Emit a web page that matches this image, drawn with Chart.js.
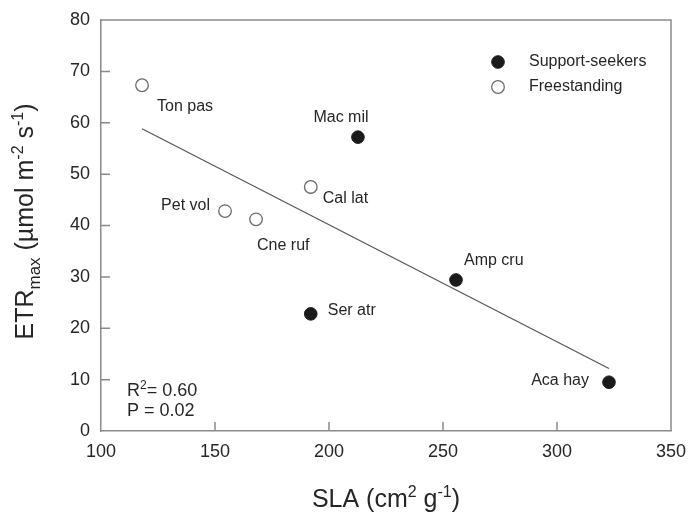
<!DOCTYPE html>
<html>
<head>
<meta charset="utf-8">
<title>ETRmax vs SLA</title>
<script src="https://cdn.jsdelivr.net/npm/chart.js@4/dist/chart.umd.min.js"></script>
<style>
  html, body { margin: 0; padding: 0; background: #fff; }
  #wrap { width: 689px; height: 516px; }
</style>
</head>
<body>
<div id="wrap"><canvas id="graph" width="689" height="516"></canvas></div>
<script>
// species, specific leaf area (cm2 g-1) and max electron transport rate
const species = ['Ton pas', 'Pet vol', 'Cne ruf', 'Cal lat', 'Mac mil', 'Ser atr', 'Amp cru', 'Aca hay'];
const sla = [118, 154.4, 168, 192, 212.7, 192, 255.7, 322.8];
const etr = [67.3, 42.8, 41.2, 47.5, 57.2, 22.8, 29.4, 9.5];
const habit = ['free', 'free', 'free', 'free', 'support', 'support', 'support', 'support'];

const xTicks = [100, 150, 200, 250, 300, 350];
const yTicks = [0, 10, 20, 30, 40, 50, 60, 70, 80];

// where each species name sits relative to its point (px)
const labelPlace = [
  [15, 26, 'left'], [-15, -1, 'right'], [1, 31, 'left'], [12, 16, 'left'],
  [-17, -15, 'center'], [17, 1, 'left'], [8, -15, 'left'], [-20, 3, 'right']
];

const FONT = "'Liberation Sans', Arial, Helvetica, sans-serif";
const INK = '#262626';
const AXIS = '#8a8a8a';

// least squares fit over all species
function fit(xs, ys) {
  const n = xs.length;
  const mx = xs.reduce((a, b) => a + b, 0) / n;
  const my = ys.reduce((a, b) => a + b, 0) / n;
  let sxy = 0, sxx = 0, syy = 0;
  for (let i = 0; i < n; i++) {
    sxy += (xs[i] - mx) * (ys[i] - my);
    sxx += (xs[i] - mx) * (xs[i] - mx);
    syy += (ys[i] - my) * (ys[i] - my);
  }
  const slope = sxy / sxx;
  return { slope: slope, icept: my - slope * mx, r2: (sxy * sxy) / (sxx * syy) };
}
const reg = fit(sla, etr);
const xMin = Math.min(...sla), xMax = Math.max(...sla);

function pointsFor(kind) {
  const pts = [];
  sla.forEach((x, i) => { if (habit[i] === kind) pts.push({ x: x, y: etr[i] }); });
  return pts;
}

// draws a run of text pieces with different sizes / vertical shifts
function richText(ctx, parts, x, y, align) {
  let total = 0;
  parts.forEach(p => { ctx.font = p.size + 'px ' + FONT; total += ctx.measureText(p.t).width; });
  let cx = align === 'center' ? x - total / 2 : x;
  ctx.textAlign = 'left';
  ctx.textBaseline = 'alphabetic';
  parts.forEach(p => {
    ctx.font = p.size + 'px ' + FONT;
    ctx.fillText(p.t, cx, y + (p.dy || 0));
    cx += ctx.measureText(p.t).width;
  });
}

const decor = {
  id: 'decor',
  afterDatasetsDraw(chart) {
    const ctx = chart.ctx;
    const a = chart.chartArea;
    const xs = chart.scales.x, ys = chart.scales.y;
    ctx.save();

    // frame top / right and inward ticks
    ctx.strokeStyle = AXIS;
    ctx.lineWidth = 1.5;
    ctx.beginPath();
    ctx.moveTo(a.left, a.top); ctx.lineTo(a.right, a.top); ctx.lineTo(a.right, a.bottom);
    xTicks.slice(1, -1).forEach(v => {
      const px = xs.getPixelForValue(v);
      ctx.moveTo(px, a.bottom); ctx.lineTo(px, a.bottom - 9);
    });
    yTicks.slice(1, -1).forEach(v => {
      const py = ys.getPixelForValue(v);
      ctx.moveTo(a.left, py); ctx.lineTo(a.left + 9, py);
    });
    ctx.stroke();

    // species names
    ctx.fillStyle = INK;
    ctx.font = '16px ' + FONT;
    ctx.textBaseline = 'alphabetic';
    species.forEach((name, i) => {
      const p = labelPlace[i];
      ctx.textAlign = p[2];
      ctx.fillText(name, xs.getPixelForValue(sla[i]) + p[0], ys.getPixelForValue(etr[i]) + p[1]);
    });

    // legend
    const lx = a.left + 397, ly = a.top + 42;
    chart.data.datasets.slice(0, 2).forEach((ds, i) => {
      const y = ly + i * 25;
      ctx.beginPath();
      ctx.arc(lx, y, 6.3, 0, Math.PI * 2);
      ctx.fillStyle = ds.backgroundColor;
      ctx.fill();
      ctx.lineWidth = ds.borderWidth;
      ctx.strokeStyle = ds.borderColor;
      ctx.stroke();
      ctx.fillStyle = INK;
      ctx.font = '16px ' + FONT;
      ctx.textAlign = 'left';
      ctx.textBaseline = 'middle';
      ctx.fillText(ds.label, lx + 31, y);
    });

    // fit statistics
    ctx.fillStyle = INK;
    richText(ctx, [{ t: 'R', size: 18 }, { t: '2', size: 12, dy: -7 }, { t: '= ' + reg.r2.toFixed(2), size: 18 }],
      a.left + 26, a.bottom - 35, 'left');
    richText(ctx, [{ t: 'P = 0.02', size: 18 }], a.left + 26, a.bottom - 15, 'left');

    // axis titles
    richText(ctx, [
      { t: 'SLA (cm', size: 25 }, { t: '2', size: 16, dy: -10 },
      { t: ' g', size: 25 }, { t: '-1', size: 16, dy: -10 }, { t: ')', size: 25 }
    ], (a.left + a.right) / 2, 507, 'center');

    ctx.translate(33, (a.top + a.bottom) / 2 - 4);
    ctx.rotate(-Math.PI / 2);
    richText(ctx, [
      { t: 'ETR', size: 25 }, { t: 'max', size: 17, dy: 7 },
      { t: ' (\u00b5mol m', size: 25 }, { t: '-2', size: 16, dy: -10 },
      { t: ' s', size: 25 }, { t: '-1', size: 16, dy: -10 }, { t: ')', size: 25 }
    ], 0, 0, 'center');

    ctx.restore();
  }
};

const ctx = document.getElementById('graph').getContext('2d');

const chart = new Chart(ctx, {
  type: 'scatter',
  data: {
    datasets: [
      {
        label: 'Support-seekers',
        data: pointsFor('support'),
        backgroundColor: '#1b1b1b',
        borderColor: '#1b1b1b',
        borderWidth: 1,
        pointRadius: 6.3,
        order: 1
      },
      {
        label: 'Freestanding',
        data: pointsFor('free'),
        backgroundColor: '#ffffff',
        borderColor: '#6a6a6a',
        borderWidth: 1.3,
        pointRadius: 6.3,
        order: 1
      },
      {
        type: 'line',
        label: 'fit',
        data: [
          { x: xMin, y: reg.icept + reg.slope * xMin },
          { x: xMax, y: reg.icept + reg.slope * xMax }
        ],
        borderColor: '#555555',
        borderWidth: 1.2,
        pointRadius: 0,
        fill: false,
        order: 2
      }
    ]
  },
  options: {
    responsive: false,
    animation: false,
    layout: { padding: { left: 0, right: 18, top: 20, bottom: 0 } },
    plugins: { legend: { display: false }, tooltip: { enabled: false } },
    scales: {
      x: {
        type: 'linear',
        min: xTicks[0],
        max: xTicks[xTicks.length - 1],
        afterBuildTicks: s => { s.ticks = xTicks.map(v => ({ value: v })); },
        afterFit: s => { s.height = 85; s.paddingLeft = 0; s.paddingRight = 0; },
        grid: { drawOnChartArea: false, drawTicks: false },
        border: { color: AXIS, width: 1.5 },
        ticks: { color: INK, font: { family: FONT, size: 18 }, padding: 10, maxRotation: 0 }
      },
      y: {
        type: 'linear',
        min: yTicks[0],
        max: yTicks[yTicks.length - 1],
        afterBuildTicks: s => { s.ticks = yTicks.map(v => ({ value: v })); },
        afterFit: s => { s.width = 101; s.paddingTop = 0; s.paddingBottom = 0; },
        grid: { drawOnChartArea: false, drawTicks: false },
        border: { color: AXIS, width: 1.5 },
        ticks: { color: INK, font: { family: FONT, size: 18 }, padding: 11 }
      }
    }
  },
  plugins: [decor]
});
</script>
</body>
</html>
